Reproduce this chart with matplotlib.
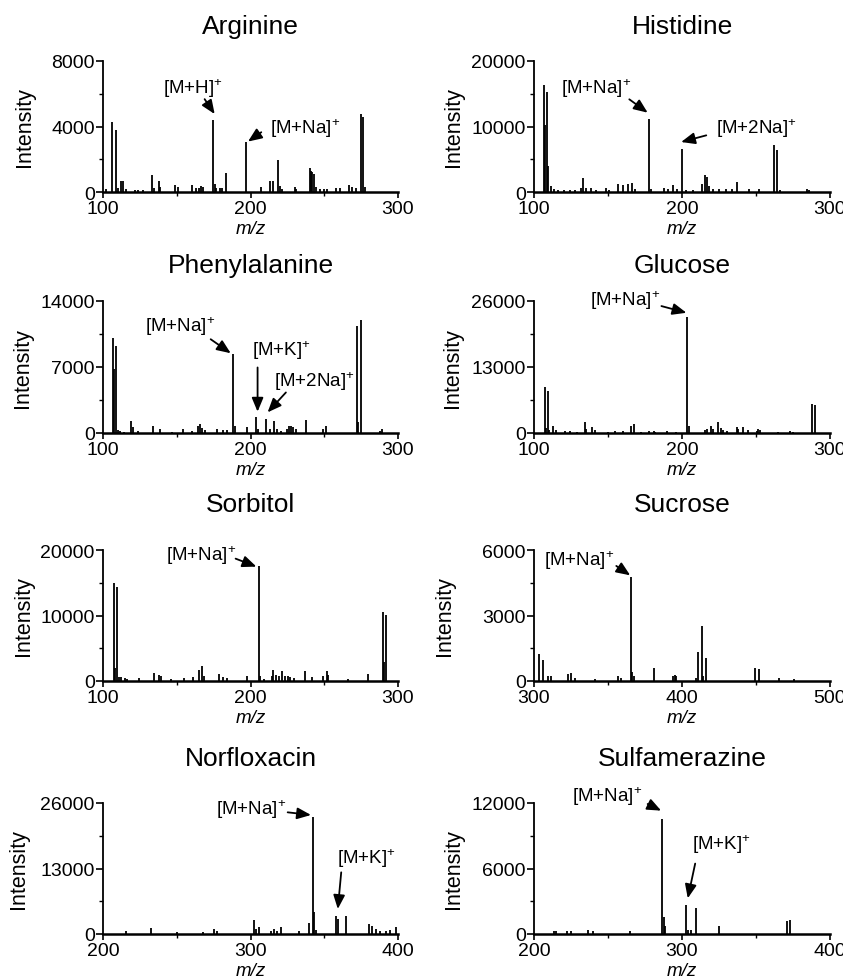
import matplotlib
matplotlib.use("Agg")
import matplotlib.pyplot as plt
from matplotlib.ticker import AutoMinorLocator

plt.rcParams.update({
    "font.family": ["Liberation Sans", "DejaVu Sans"],
    "mathtext.fontset": "custom", "mathtext.rm": "Liberation Sans",
    "mathtext.it": "Liberation Sans:italic", "mathtext.default": "regular",
    "axes.spines.top": False, "axes.spines.right": False,
    "xtick.labelsize": 14, "ytick.labelsize": 14,
})

# ---- spectra (m/z, intensity) ----
ARG_MZ = [102.3, 106.3, 108.6, 110.2, 112.4, 113.6, 115.4, 121.5, 124, 127, 133.4, 134.4, 138.0, 138.9,
          148.6, 150.9, 160.5, 163.3, 165.0, 166.7, 167.8, 174.6, 175.7, 176.8, 179.1, 180.9, 183.2,
          197.2, 207.3, 213.0, 215.3, 218.6, 219.8, 221.6, 229.9, 231.0, 240.6, 241.2, 241.9, 242.8,
          244.2, 247, 250, 252, 258.2, 260.5, 266.8, 269.0, 271.3, 275.1, 276.3, 277.4]
ARG_INT = [200, 4300, 3800, 250, 650, 700, 200, 150, 150, 150, 1050, 250, 650, 300,
           400, 300, 400, 250, 250, 350, 300, 4400, 500, 250, 250, 250, 1170,
           3040, 300, 650, 650, 1960, 350, 200, 300, 200, 1460, 1300, 1200, 1100,
           300, 200, 200, 200, 250, 250, 450, 300, 250, 4760, 4560, 300]

HIS_MZ = [106.8, 107.5, 109.0, 109.7, 111.3, 113.5, 116, 120, 124, 128, 131.5, 133.2, 135.0, 138.4,
          142, 148.6, 151, 156.5, 160.3, 163.3, 166.2, 168.5, 177.5, 179, 188.0, 190.3, 193.8, 196.5,
          200.1, 203, 207.5, 213.4, 215.7, 217.0, 218.2, 221, 225, 230, 234, 237.2, 245, 252,
          262.0, 264.3, 266, 284.2, 285.5]
HIS_INT = [16400, 10300, 15200, 4000, 900, 400, 300, 250, 300, 300, 600, 2100, 600, 650,
           300, 650, 300, 1270, 1000, 1170, 1320, 400, 11200, 400, 600, 500, 1070, 400,
           6600, 300, 300, 1270, 2600, 2300, 900, 400, 500, 400, 450, 1530, 400, 400,
           7100, 6400, 300, 400, 350]

PHE_MZ = [106.8, 107.3, 109.1, 110.0, 111.5, 114, 119.3, 120.4, 123.5, 134.0, 138.5, 147, 154.2, 160.5,
          164.4, 165.8, 167.3, 169, 177.6, 181.6, 184, 188.2, 189.3, 197.5, 203.6, 205.2, 210.4, 213.3,
          216.1, 218, 220.8, 225, 226.3, 227.5, 228.6, 231, 237.6, 249, 251.2, 272.3, 273.2, 274.6,
          287.7, 288.9]
PHE_INT = [10100, 6770, 9200, 300, 250, 150, 1300, 600, 250, 780, 420, 150, 420, 250,
           780, 950, 500, 350, 420, 350, 300, 8360, 700, 600, 1660, 400, 1480, 420,
           1300, 420, 250, 420, 780, 700, 650, 420, 1410, 420, 780, 11400, 1200, 12000,
           250, 420]

GLC_MZ = [107.2, 107.9, 109.5, 110.2, 112.9, 115.1, 121, 124.4, 129, 134.3, 135.4, 139.5, 141.1, 150,
          154.6, 160.2, 165.8, 167.6, 172, 177.9, 181.3, 182, 189.9, 196, 203.7, 204.6, 215.4, 217,
          219.3, 221.1, 224.5, 226.3, 227.9, 230.1, 236.9, 238, 241.4, 244.8, 250.4, 251.5, 252.6,
          265, 272.7, 275, 287.6, 289.9]
GLC_INT = [9000, 930, 8300, 600, 1460, 500, 300, 470, 250, 2120, 800, 1130, 600, 250,
           470, 470, 1460, 1790, 250, 470, 470, 250, 470, 250, 22900, 1330, 660, 800,
           1460, 800, 2120, 930, 600, 470, 1130, 800, 1130, 600, 470, 800, 600,
           250, 470, 250, 5770, 5440]

SOR_MZ = [107.4, 107.9, 109.7, 110.6, 112.4, 114.6, 116, 124.7, 134.4, 138.2, 139.3, 146, 154.6, 161.3,
          165.2, 167.4, 168.5, 178.7, 181.6, 183.8, 197.3, 205.6, 206.7, 209, 214.4, 215.3, 217,
          219.3, 221.3, 223.6, 225.2, 227, 229.2, 237.1, 241.6, 249.4, 251.7, 252.8, 266, 279.8,
          289.9, 290.6, 292.1]
SOR_INT = [14900, 2000, 14300, 560, 560, 400, 300, 400, 1220, 900, 700, 300, 400, 560,
           1730, 2230, 710, 1070, 560, 400, 700, 17600, 810, 300, 700, 1730, 910,
           810, 1570, 810, 710, 560, 400, 1570, 560, 700, 1470, 910, 300, 1070,
           10600, 2950, 10100]

SUC_MZ = [303.4, 306.1, 309.4, 311.7, 322.9, 325.2, 327.5, 341, 356.7, 359, 365.7, 366.4, 367.3,
          381.0, 393.8, 395.0, 396.2, 409.2, 411.1, 413.6, 414.5, 415.9, 449.6, 451.9, 465.8, 476]
SUC_INT = [1220, 980, 210, 210, 320, 360, 120, 80, 210, 120, 4780, 430, 210,
           590, 210, 290, 240, 120, 1310, 2500, 210, 1050, 590, 550, 140, 80]

NOR_MZ = [215.9, 232.7, 250, 268, 275.3, 277, 302.5, 303.6, 305.9, 313.8, 316.1, 318, 320.6, 333,
          339.9, 342.2, 343.3, 344.4, 358.0, 359.2, 364.9, 380.3, 382.3, 385.3, 388, 392.0, 394.3,
          398.9]
NOR_INT = [660, 1120, 300, 300, 990, 500, 2780, 990, 1320, 660, 990, 500, 1320, 660,
           2120, 23200, 4300, 800, 3640, 2980, 3640, 1980, 1650, 990, 500, 660, 800,
           1320]

SMZ_MZ = [213.6, 215, 222.6, 224.9, 236.8, 240.2, 265.1, 286.6, 287.5, 288.8, 302.4, 304, 305.8,
          309.2, 325.0, 371.1, 373.3]
SMZ_INT = [240, 240, 240, 240, 390, 240, 240, 10500, 1600, 700, 2670, 400, 400,
           2420, 700, 1150, 1300]

TITLES = ["Arginine", "Histidine", "Phenylalanine", "Glucose",
          "Sorbitol", "Sucrose", "Norfloxacin", "Sulfamerazine"]
SPECTRA = [(ARG_MZ, ARG_INT), (HIS_MZ, HIS_INT), (PHE_MZ, PHE_INT), (GLC_MZ, GLC_INT),
           (SOR_MZ, SOR_INT), (SUC_MZ, SUC_INT), (NOR_MZ, NOR_INT), (SMZ_MZ, SMZ_INT)]
XRANGES = [(100, 300)] * 5 + [(300, 500), (200, 400), (200, 400)]
YMAX = [8000, 20000, 14000, 26000, 20000, 6000, 26000, 12000]

# labels: (text, text pos, arrow start, arrow tip) in data coords
ANNOT = [
    [("[M+H]$^{+}$", (161, 6380), (168.9, 5670), (175.7, 4760)),
     ("[M+Na]$^{+}$", (236.7, 3950), (207.3, 3650), (198.3, 3080))],
    [("[M+Na]$^{+}$", (141.8, 15930), (164.4, 14150), (176.8, 12110)),
     ("[M+2Na]$^{+}$", (250.3, 9820), (216.4, 8650), (199.4, 7630))],
    [("[M+Na]$^{+}$", (152.2, 11355), (173, 9945), (186.6, 8460)),
     ("[M+K]$^{+}$", (220.6, 8890), (204.8, 6950), (204.8, 2260)),
     ("[M+2Na]$^{+}$", (243.3, 5540), (224, 4300), (211.6, 2190))],
    [("[M+Na]$^{+}$", (161.3, 26330), (186.1, 25000), (203, 23680))],
    [("[M+Na]$^{+}$", (166.3, 19340), (189.9, 18680), (204, 17460))],
    [("[M+Na]$^{+}$", (330.8, 5570), (355.6, 5270), (365, 4840))],
    [("[M+Na]$^{+}$", (300.2, 24810), (325.2, 24150), (341, 23620)),
     ("[M+K]$^{+}$", (378.5, 15220), (361.5, 12240), (359.2, 4960))],
    [("[M+Na]$^{+}$", (249.7, 12670), (276.8, 11910), (285.9, 11300)),
     ("[M+K]$^{+}$", (326.6, 8270), (308.9, 6450), (303.9, 3270))],
]

W, H = 843, 978
LEFT_PX = [103, 534]
WIDTH_PX = [295, 296]
ROW_PX = [(62, 193), (302, 434), (551, 682), (804, 935)]
TITLE_PAD = [20, 21, 28, 27]
YLAB_X = [-0.23, -0.237, -0.237, -0.24, -0.234, -0.267, -0.25, -0.237]

fig = plt.figure(figsize=(W / 100, H / 100), dpi=100)
for i, title in enumerate(TITLES):
    r, c = divmod(i, 2)
    top, bot = ROW_PX[r]
    ax = fig.add_axes([LEFT_PX[c] / W, 1 - bot / H, WIDTH_PX[c] / W, (bot - top) / H])
    mz, inten = SPECTRA[i]
    ax.vlines(mz, 0, inten, color="k", lw=1.3)
    x0, x1 = XRANGES[i]
    ax.set_xlim(x0, x1)
    ax.set_ylim(0, YMAX[i])
    ax.set_xticks([x0, (x0 + x1) / 2, x1])
    ax.set_yticks([0, YMAX[i] / 2, YMAX[i]])
    ax.xaxis.set_minor_locator(AutoMinorLocator(2))
    ax.yaxis.set_minor_locator(AutoMinorLocator(2))
    ax.tick_params(axis="x", which="major", length=4, width=1.2, pad=2)
    ax.tick_params(axis="y", which="major", length=5, width=1.2, pad=1)
    ax.tick_params(which="minor", length=3, width=1.0)
    ax.spines["bottom"].set_linewidth(1.8)
    ax.spines["left"].set_linewidth(1.3)
    ax.set_title(title, fontsize=19, pad=TITLE_PAD[r])
    ax.set_xlabel("m/z", fontsize=13.5, fontstyle="italic", labelpad=2)
    ax.set_ylabel("Intensity", fontsize=15.5)
    ax.yaxis.set_label_coords(YLAB_X[i], 0.5)
    for label, txy, start, tip in ANNOT[i]:
        ax.annotate("", xy=tip, xytext=start, annotation_clip=False,
                    arrowprops=dict(arrowstyle="-|>,head_length=0.6,head_width=0.25",
                                    color="k", lw=1.3, shrinkA=0, shrinkB=0, mutation_scale=14))
        ax.text(txy[0], txy[1], label, fontsize=13.5, ha="center", va="center", clip_on=False)

fig.savefig("out.png", dpi=100)
